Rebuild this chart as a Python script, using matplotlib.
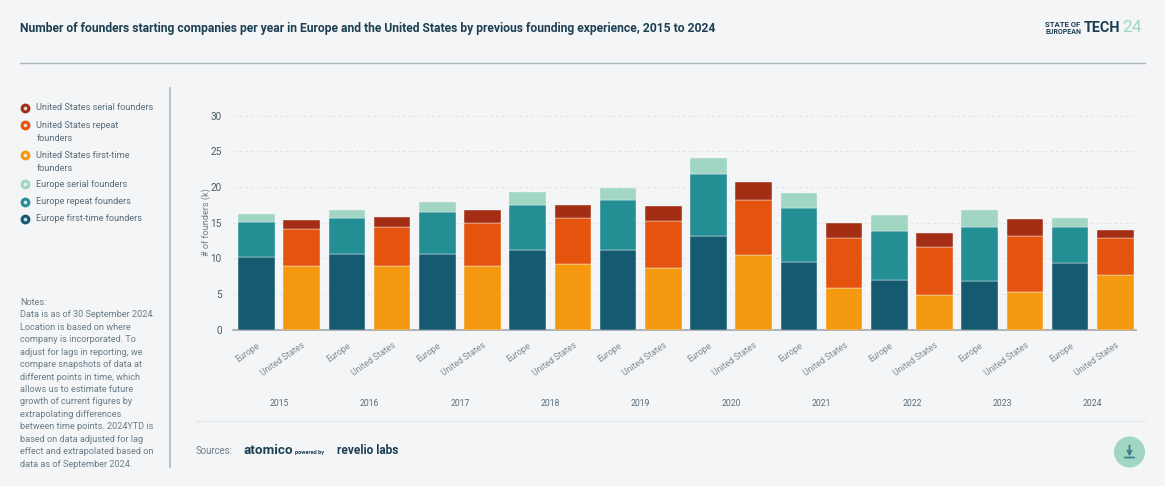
import matplotlib
matplotlib.use("Agg")
import matplotlib.pyplot as plt
from matplotlib.patches import Circle, FancyBboxPatch
import numpy as np

plt.rcParams['font.family'] = ['Roboto', 'DejaVu Sans']

years = ['2015', '2016', '2017', '2018', '2019', '2020', '2021', '2022', '2023', '2024']
regions = ['Europe', 'United States']

# thousands of founders
eu_first = [10.2, 10.6, 10.6, 11.1, 11.1, 13.1, 9.4, 6.9, 6.8, 9.3]
eu_repeat = [4.85, 5.1, 5.9, 6.4, 7.1, 8.7, 7.7, 6.9, 7.5, 5.1]
eu_serial = [1.15, 1.1, 1.4, 1.8, 1.7, 2.2, 2.0, 2.2, 2.4, 1.3]
us_first = [8.9, 8.9, 8.9, 9.2, 8.6, 10.4, 5.8, 4.8, 5.3, 7.6]
us_repeat = [5.15, 5.5, 6.1, 6.4, 6.6, 7.8, 7.0, 6.7, 7.8, 5.2]
us_serial = [1.35, 1.4, 1.7, 1.8, 2.1, 2.5, 2.2, 2.0, 2.4, 1.2]

yticks = [0, 5, 10, 15, 20, 25, 30]

legend_labels = ['United States serial founders', 'United States repeat\nfounders',
                 'United States first-time\nfounders', 'Europe serial founders',
                 'Europe repeat founders', 'Europe first-time founders']

notes = """Notes:
Data is as of 30 September 2024.
Location is based on where
company is incorporated. To
adjust for lags in reporting, we
compare snapshots of data at
different points in time, which
allows us to estimate future
growth of current figures by
extrapolating differences
between time points. 2024YTD is
based on data adjusted for lag
effect and extrapolated based on
data as of September 2024."""

BG = '#f3f5f7'
DARK = '#1d3f52'
GREY = '#6e7f8b'
c_eu = ['#155a70', '#238f95', '#a0d6c2']
c_us = ['#f59a10', '#e4540f', '#a32e14']

W, H = 1165, 486
fig = plt.figure(figsize=(W / 100, H / 100), dpi=100, facecolor=BG)

# overlay in pixel coords for the page furniture
page = fig.add_axes([0, 0, 1, 1], zorder=0)
page.set_xlim(0, W)
page.set_ylim(H, 0)
page.axis('off')

page.text(20, 28.5, 'Number of founders starting companies per year in Europe and the United States by previous founding experience, 2015 to 2024',
          fontsize=8.7, fontweight='bold', color=DARK, va='center')
page.plot([20, 1145], [63, 63], color='#a9b7bf', lw=1)
page.plot([170, 170], [88, 467], color='#a9b7bf', lw=1.2)
page.plot([196, 1145], [420.5, 420.5], color='#e6e9ec', lw=1)

# header logo
page.text(1045, 24.5, 'STATE OF', fontsize=5.6, fontweight='bold', color=DARK, va='center')
page.text(1045, 32.5, 'EUROPEAN', fontsize=5, fontweight='bold', color=DARK, va='center')
page.text(1083.5, 28, 'TECH', fontsize=10.4, fontweight='bold', color=DARK, va='center')
page.text(1122, 28, '24', fontsize=12.5, color='#a0d6c2', va='center')

# legend
leg_y = [108, 125, 155, 184.5, 201.5, 219]
leg_c = [c_us[2], c_us[1], c_us[0], c_eu[2], c_eu[1], c_eu[0]]
for y, c, lab in zip(leg_y, leg_c, legend_labels):
    page.scatter([25], [y], s=50, color=c, linewidths=0, zorder=3)
    page.scatter([25], [y], s=7, color=BG, alpha=0.85, linewidths=0, zorder=4)
    if '\n' in lab:
        page.text(36.5, y - 4, lab, fontsize=6.6, color='#5a6d79', va='top', linespacing=1.55)
    else:
        page.text(36.5, y - 0.5, lab, fontsize=6.6, color='#5a6d79', va='center')

page.text(20.5, 298, notes, fontsize=6.55, color='#6b7d88', va='top', linespacing=1.49)

# sources row
page.text(196, 451, 'Sources:', fontsize=6.9, color=GREY, va='center')
page.text(244, 450, 'atomico', fontsize=9.7, fontweight='bold', color=DARK, va='center')
page.text(295, 452, 'powered by', fontsize=4.1, fontweight='bold', color=DARK, va='center')
page.text(337, 450, 'revelio labs', fontsize=8.6, fontweight='bold', color=DARK, va='center')

# download button
page.add_patch(Circle((1129.5, 452), 15.5, color='#a0d6c2', lw=0))
page.annotate('', xy=(1129.5, 456.5), xytext=(1129.5, 445.5),
              arrowprops=dict(arrowstyle='->', color='#3c7f8c', lw=1.3, mutation_scale=7, shrinkA=0, shrinkB=0))
page.add_patch(FancyBboxPatch((1124.5, 457), 10, 1, boxstyle='round,pad=0.4', color='#3c7f8c', lw=0))

# chart
ax = fig.add_axes([233 / W, 1 - 329.5 / H, (1136 - 233) / W, (329.5 - 115.5) / H], zorder=1)
ax.patch.set_alpha(0)

x_eu = np.arange(len(years)) * 2
x_us = x_eu + 1
bw = 0.81

bottom = np.zeros(len(years))
for vals, c in zip([eu_first, eu_repeat, eu_serial], c_eu):
    ax.bar(x_eu, vals, bw, bottom=bottom, color=c, edgecolor=BG, linewidth=0.3, zorder=3)
    bottom += np.array(vals)
bottom = np.zeros(len(years))
for vals, c in zip([us_first, us_repeat, us_serial], c_us):
    ax.bar(x_us, vals, bw, bottom=bottom, color=c, edgecolor=BG, linewidth=0.3, zorder=3)
    bottom += np.array(vals)

ax.set_xlim(-0.52, 19.46)
ax.set_ylim(0, 30)
ax.set_yticks(yticks)
ax.tick_params(axis='y', length=0, pad=8, labelsize=7.2, labelcolor='#4a5c68')
ax.grid(axis='y', color='#e1e5e8', lw=0.7, ls=(0, (3, 3)), zorder=0)
ax.set_ylabel('# of founders (k)', fontsize=6.6, color=GREY, labelpad=0)

xpos = np.concatenate([x_eu, x_us])
xlabels = [regions[0]] * len(years) + [regions[1]] * len(years)
ax.set_xticks(xpos)
ax.set_xticklabels(xlabels, rotation=35, ha='right', rotation_mode='anchor', fontsize=6.2, color='#7d8b95')
ax.tick_params(axis='x', length=0, pad=8)

for s in ['top', 'right', 'left']:
    ax.spines[s].set_visible(False)
ax.spines['bottom'].set_color('#a3a8ac')
ax.spines['bottom'].set_linewidth(1.2)

for i, yr in enumerate(years):
    ax.text(x_eu[i] + 0.5, -0.344, yr, transform=ax.get_xaxis_transform(),
            ha='center', va='center', fontsize=6.2, color='#5a6d79')

fig.savefig('out.png', dpi=100, facecolor=BG)
